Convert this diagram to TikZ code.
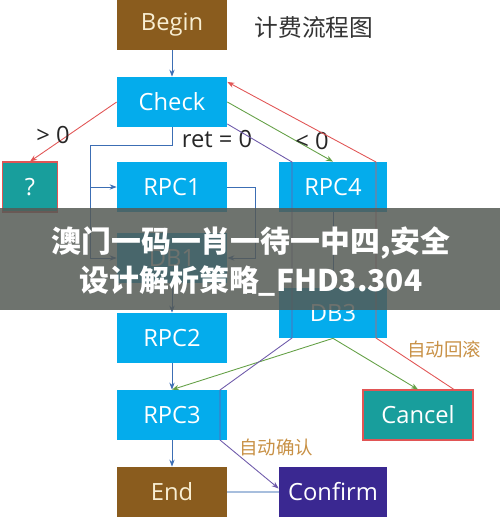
\documentclass[tikz,border=0pt]{standalone}
\usepackage{fontspec}
\setmainfont{Open Sans}
\newfontfamily\cjk{Noto Sans CJK SC}
\usepackage{tikz}
\usetikzlibrary{arrows.meta,positioning,calc}
\definecolor{termBrown}{RGB}{138,92,30}
\definecolor{termText}{RGB}{248,238,210}
\definecolor{rpcBlue}{RGB}{4,172,236}
\definecolor{finTeal}{RGB}{24,158,156}
\definecolor{confirmPurple}{RGB}{58,40,145}
\definecolor{lineBlue}{RGB}{60,110,180}
\definecolor{lineRed}{RGB}{225,85,85}
\definecolor{lineGreen}{RGB}{100,160,70}
\definecolor{linePurple}{RGB}{110,90,170}
\definecolor{noteGold}{RGB}{200,145,70}
\definecolor{bannerGrey}{RGB}{85,90,85}

\begin{document}
\begin{tikzpicture}[
    >={Stealth[length=4pt,width=3pt]}, x=0.02cm, y=-0.02cm,
    box/.style={rectangle, minimum width=2.2cm, minimum height=1cm,
      inner sep=0pt, font=\fontsize{13.5}{15}\selectfont, text=white},
    rpc/.style={box, fill=rpcBlue},
    term/.style={box, fill=termBrown, text=termText},
    fin/.style={box, fill=finTeal, draw=lineRed, line width=0.6pt},
    flow/.style={->, draw=lineBlue, line width=0.5pt},
    lbl/.style={font=\fontsize{13.5}{15}\selectfont, text=black!85},
    note/.style={font=\cjk\fontsize{10.5}{12}\selectfont, text=noteGold}
  ]
    \useasboundingbox (0,0) rectangle (500,518);
    % Boxes
    \node[term] (begin) at (172,25) {Begin};
    \node[font=\cjk\fontsize{13.5}{15}\selectfont, text=black!80] (title) at (314,27) {计费流程图};
    \node[rpc] (check) at (172,102) {Check};
    \node[fin, minimum width=1.1cm] (q) at (30,187) {?};
    \node[rpc] (rpc1) at (172,187) {RPC1};
    \node[rpc, minimum width=2.16cm] (rpc4) at (333,187) {RPC4};
    \node[rpc] (db1) at (172,258) {DB1};
    \node[rpc, minimum width=2.16cm] (db3) at (333,313) {DB3};
    \node[rpc] (rpc2) at (172,338) {RPC2};
    \node[rpc] (rpc3) at (172,415) {RPC3};
    \node[fin] (cancel) at (418,415) {Cancel};
    \node[term] (end) at (172,492) {End};
    \node[box, fill=confirmPurple, minimum width=2.16cm] (confirm) at (333,492) {Confirm};
    % Main line
    \draw[flow] (begin) -- (check);
    \draw[flow] (db1) -- (rpc2);
    \draw[flow] (rpc2) -- (rpc3);
    \draw[flow] (rpc3) -- (end);
    \draw[flow] (rpc4) -- (db3);
    % ret = 0
    \coordinate (split) at (90,145);
    \coordinate (loop) at (255,187);
    \draw[flow] (check.south) |- (split) |- (rpc1.west);
    \draw[flow] (split) |- (db1.west);
    \draw[flow] (rpc1.east) -- (loop) |- (db1.east);
    \node[lbl] (ret) at (217,139) {ret = 0};
    % > 0 and < 0
    \draw[->, draw=lineRed, line width=0.5pt] (check.west) -- (q.north);
    \node[lbl] (gt) at (53,135) {> 0};
    \draw[->, draw=lineGreen, line width=0.5pt] (check.east) -- (rpc4.north);
    \node[lbl] (lt) at (312,141) {< 0};
    % DB3 outputs
    \draw[->, draw=lineGreen, line width=0.5pt] (db3.south) -- (rpc3.north);
    \draw[->, draw=lineGreen, line width=0.5pt] (db3.south) -- (cancel.north);
    % Rollback
    \coordinate (r1) at (376,338);
    \coordinate (r2) at (376,162);
    \draw[->, draw=lineRed, line width=0.5pt] ([xshift=0.72cm]cancel.north) -- (r1) -- (r2)
      -- ([yshift=-3pt]check.north east);
    \node[note] (rollback) at (444,349) {自动回滚};
    % Confirm
    \coordinate (p1) at (292,162);
    \coordinate (p2) at (292,338);
    \coordinate (p3) at (220,390);
    \coordinate (p4) at (220,440);
    \draw[->, draw=linePurple, line width=0.5pt] ([yshift=-0.44cm]check.east) -- (p1) -- (p2)
      -- (p3) -- (p4) -- ([yshift=2pt]confirm.west);
    \node[note] (autoconf) at (276,447) {自动确认};
    \draw[draw=lineBlue!45, line width=0.6pt] (end) -- (confirm);
    % Banner
    \fill[bannerGrey, fill opacity=0.85] (0,208) rectangle (500,310);
    \node[font=\cjk\bfseries\fontsize{17}{19}\selectfont, text=white] (banner1) at (251,243)
      {澳门一码一肖一待一中四,安全};
    \node[font=\cjk\bfseries\fontsize{17}{19}\selectfont, text=white] (banner2) at (251,281)
      {设计解析策略\_FHD3.304};
\end{tikzpicture}
\end{document}
